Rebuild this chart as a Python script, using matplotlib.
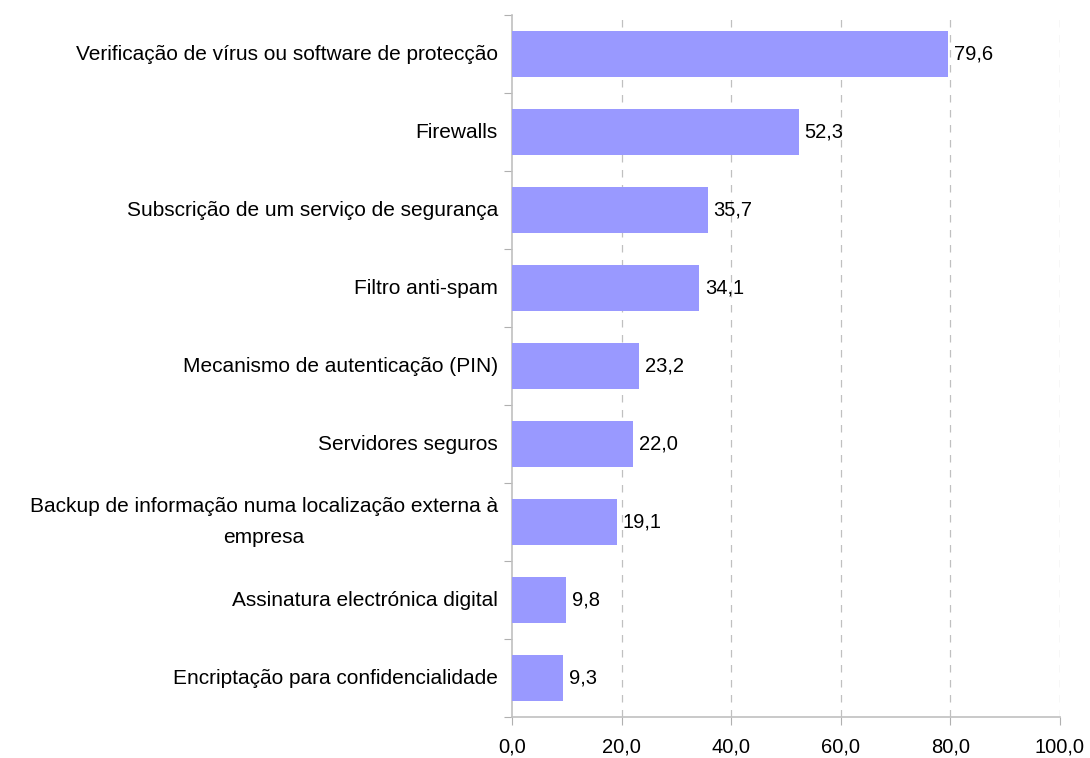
import numpy as np
import matplotlib
matplotlib.use("Agg")
import matplotlib.pyplot as plt

plt.rcParams['font.family'] = ['Liberation Sans', 'DejaVu Sans']

categories = [
    "Verificação de vírus ou software de protecção",
    "Firewalls",
    "Subscrição de um serviço de segurança",
    "Filtro anti-spam",
    "Mecanismo de autenticação (PIN)",
    "Servidores seguros",
    "Backup de informação numa localização externa à\nempresa",
    "Assinatura electrónica digital",
    "Encriptação para confidencialidade",
]
values = [79.6, 52.3, 35.7, 34.1, 23.2, 22.0, 19.1, 9.8, 9.3]
xticks = [0, 20, 40, 60, 80, 100]

fig = plt.figure(figsize=(10.9, 7.58), dpi=100)
ax = fig.add_axes([512/1090, 1 - 717/758, 548/1090, 702/758])

n = len(categories)
ypos = np.arange(n)[::-1]
ax.barh(ypos, values, height=0.58, color='#9999ff', zorder=3)

for y, v in zip(ypos, values):
    ax.text(v + 1.1, y, ("%.1f" % v).replace('.', ','), va='center', ha='left',
            fontsize=14.5, zorder=4)

for y, lab in zip(ypos, categories):
    ax.text(-2.6, y, lab, ha='right', va='center', multialignment='center',
            fontsize=15, linespacing=1.85)

ax.set_xlim(0, 100)
ax.set_ylim(-0.5, n - 0.5)
ax.set_xticks(xticks)
ax.set_xticklabels([("%.1f" % t).replace('.', ',') for t in xticks], fontsize=14.5)
ax.set_yticks(np.arange(n + 1) - 0.5)
ax.set_yticklabels([])
ax.tick_params(axis='y', length=6, color='#b0b0b0', direction='out')
ax.tick_params(axis='x', length=6, color='#b0b0b0', direction='out', pad=9)

for t in xticks[1:]:
    ax.axvline(t, color='#c0c0c0', linestyle=(0, (6, 6)), linewidth=0.9, zorder=1)

for s in ['top', 'right']:
    ax.spines[s].set_visible(False)
for s in ['left', 'bottom']:
    ax.spines[s].set_color('#c0c0c0')
    ax.spines[s].set_linewidth(1.2)

fig.savefig('out.png', dpi=100)
